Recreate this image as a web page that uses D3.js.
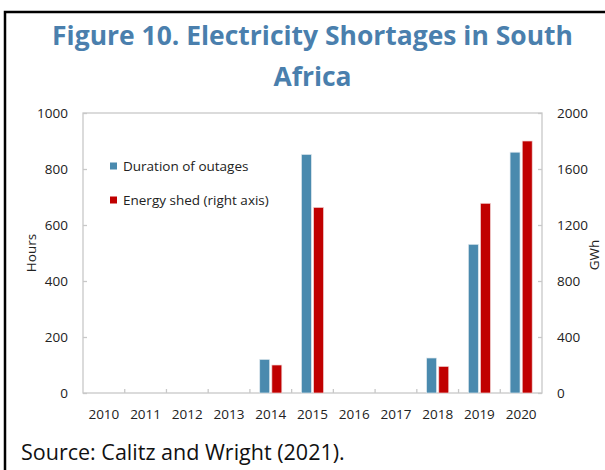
<!DOCTYPE html>
<html>
<head>
<meta charset="utf-8">
<script src="https://cdn.jsdelivr.net/npm/d3@7"></script>
<style>
  html, body { margin: 0; padding: 0; background: #fff; }
  svg { display: block; font-family: "Open Sans", "Noto Sans", sans-serif; }
</style>
</head>
<body>
<svg id="chart" width="605" height="470"></svg>
<script>
const years = ["2010","2011","2012","2013","2014","2015","2016","2017","2018","2019","2020"];
const durationHours = [0, 0, 0, 0, 120, 852, 0, 0, 125, 531, 860];
const energyShedGWh = [0, 0, 0, 0, 200, 1326, 0, 0, 190, 1355, 1800];
const leftTicks = [0, 200, 400, 600, 800, 1000];
const rightTicks = [0, 400, 800, 1200, 1600, 2000];
const seriesNames = ["Duration of outages", "Energy shed (right axis)"];
const titleLines = ["Figure 10. Electricity Shortages in South", "Africa"];
const sourceText = "Source: Calitz and Wright (2021).";

const blue = "#4A8AAE", red = "#C00000", titleColor = "#4A7FAD", textColor = "#222", axisColor = "#C8C8C8";

const svg = d3.select("#chart");
const plot = {left: 83, right: 542, top: 113, bottom: 393};

// frame
svg.append("rect").attr("x", 5).attr("y", 12).attr("width", 700).attr("height", 600)
  .attr("fill", "none").attr("stroke", "#000").attr("stroke-width", 2.5);

function fitText(sel, target) {
  const w = sel.node().getComputedTextLength();
  const fs = parseFloat(sel.attr("font-size"));
  sel.attr("font-size", fs * target / w);
}

// title
const t1 = svg.append("text").attr("x", 312.5).attr("y", 45).attr("text-anchor", "middle")
  .attr("font-size", 28).attr("font-weight", "bold").attr("fill", titleColor).text(titleLines[0]);
fitText(t1, 521);
svg.append("text").attr("x", 312.5).attr("y", 86).attr("text-anchor", "middle")
  .attr("font-size", t1.attr("font-size")).attr("font-weight", "bold").attr("fill", titleColor).text(titleLines[1]);

// scales
const x = d3.scaleBand().domain(years).range([plot.left, plot.right]).padding(0);
const bw = x.bandwidth();
const xSub = d3.scaleBand().domain(["d", "e"]).range([bw * 0.235, bw * 0.765]).paddingInner(0.18);
const yL = d3.scaleLinear().domain([0, 1000]).range([plot.bottom, plot.top]);
const yR = d3.scaleLinear().domain([0, 2000]).range([plot.bottom, plot.top]);

// plot box
svg.append("rect").attr("x", plot.left).attr("y", plot.top)
  .attr("width", plot.right - plot.left).attr("height", plot.bottom - plot.top)
  .attr("fill", "none").attr("stroke", axisColor).attr("stroke-width", 1.3);

// left axis
const gL = svg.append("g").attr("transform", `translate(${plot.left},0)`)
  .call(d3.axisRight(yL).tickValues(leftTicks).tickSize(4).tickFormat(""));
gL.select(".domain").remove();
gL.selectAll("line").attr("stroke", axisColor).attr("stroke-width", 1.3);
svg.append("g").selectAll("text").data(leftTicks).join("text")
  .attr("x", 68).attr("y", d => yL(d)).attr("dy", "0.35em").attr("text-anchor", "end")
  .attr("font-size", 13.5).attr("fill", textColor).text(d => d);

// right axis
const gR = svg.append("g").attr("transform", `translate(${plot.right},0)`)
  .call(d3.axisLeft(yR).tickValues(rightTicks).tickSize(4).tickFormat(""));
gR.select(".domain").remove();
gR.selectAll("line").attr("stroke", axisColor).attr("stroke-width", 1.3);
svg.append("g").selectAll("text").data(rightTicks).join("text")
  .attr("x", 557).attr("y", d => yR(d)).attr("dy", "0.35em").attr("text-anchor", "start")
  .attr("font-size", 13.5).attr("fill", textColor).text(d => d);

// bottom ticks at category boundaries
svg.append("g").selectAll("line").data(years.slice(1)).join("line")
  .attr("x1", d => x(d)).attr("x2", d => x(d))
  .attr("y1", plot.bottom).attr("y2", plot.bottom - 4)
  .attr("stroke", axisColor).attr("stroke-width", 1.3);
svg.append("g").selectAll("text").data(years).join("text")
  .attr("x", d => x(d) + bw / 2).attr("y", 419).attr("text-anchor", "middle")
  .attr("font-size", 13.5).attr("fill", textColor).text(d => d);

// axis titles
svg.append("text").attr("transform", "translate(36,253) rotate(-90)").attr("text-anchor", "middle")
  .attr("font-size", 13.5).attr("fill", textColor).text("Hours");
svg.append("text").attr("transform", "translate(599,255) rotate(-90)").attr("text-anchor", "middle")
  .attr("font-size", 13.5).attr("fill", textColor).text("GWh");

// bars
const data = years.map((yr, i) => ({yr, d: durationHours[i], e: energyShedGWh[i]}));
const bars = svg.append("g");
bars.selectAll("rect.d").data(data.filter(r => r.d > 0)).join("rect").attr("class", "d")
  .attr("x", r => x(r.yr) + xSub("d")).attr("width", xSub.bandwidth())
  .attr("y", r => yL(r.d)).attr("height", r => yL(0) - yL(r.d))
  .attr("fill", blue).attr("stroke", "#dfe8ee").attr("stroke-width", 0.7);
bars.selectAll("rect.e").data(data.filter(r => r.e > 0)).join("rect").attr("class", "e")
  .attr("x", r => x(r.yr) + xSub("e")).attr("width", xSub.bandwidth())
  .attr("y", r => yR(r.e)).attr("height", r => yR(0) - yR(r.e))
  .attr("fill", red).attr("stroke", "#f1d6d6").attr("stroke-width", 0.7);

// legend
const legendColors = [blue, red];
const lg = svg.append("g").selectAll("g").data(seriesNames).join("g")
  .attr("transform", (d, i) => `translate(110,${166 + i * 34})`);
lg.append("rect").attr("x", 0).attr("y", -3.5).attr("width", 7).attr("height", 7)
  .attr("fill", (d, i) => legendColors[i]);
lg.append("text").attr("x", 13).attr("y", 0).attr("dy", "0.35em")
  .attr("font-size", 13.5).attr("fill", textColor).text(d => d);

// source
const src = svg.append("text").attr("x", 21).attr("y", 460).attr("font-size", 20)
  .attr("fill", "#111").text(sourceText);
fitText(src, 324);
</script>
</body>
</html>
